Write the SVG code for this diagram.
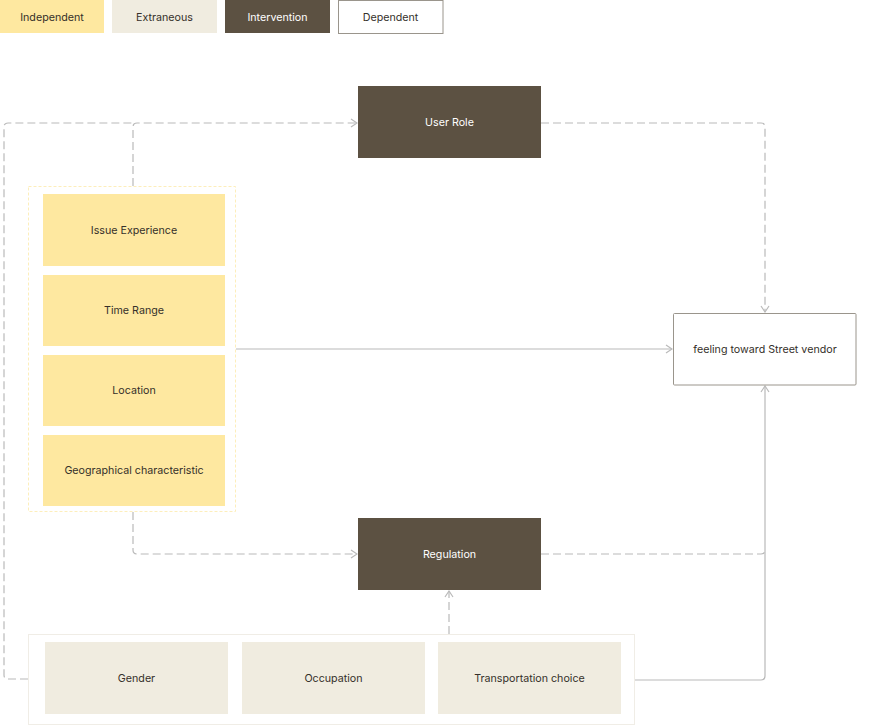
<svg xmlns="http://www.w3.org/2000/svg" width="889" height="726" viewBox="0 0 889 726">
<style>
text{font-family:Inter,"Noto Sans","Liberation Sans",sans-serif;font-size:10.7px;text-anchor:middle;dominant-baseline:central;fill:#35302a}
.ind{fill:#fee8a0}
.ext{fill:#f0ece0}
.int{fill:#5c5142}
.dep{fill:#fff;stroke:#9a958c;stroke-width:1}
.w{fill:#fff}
.c{fill:none;stroke:#bababa;stroke-width:1.2}
.d{stroke-dasharray:8 4}
</style>
<defs>
<marker id="a" viewBox="0 0 10 10" refX="9" refY="5" markerWidth="10" markerHeight="10" markerUnits="userSpaceOnUse" orient="auto">
<path d="M3,1 L9,5 L3,9" fill="none" stroke="#bababa" stroke-width="1.2"/>
</marker>
</defs>
<g id="legend">
<g id="legend-independent"><rect class="ind" x="0" y="0" width="104" height="33"/><text x="52" y="17">Independent</text></g>
<g id="legend-extraneous"><rect class="ext" x="112" y="0" width="105" height="33"/><text x="164.5" y="17">Extraneous</text></g>
<g id="legend-intervention"><rect class="int" x="225" y="0" width="105" height="33"/><text class="w" x="277.5" y="17">Intervention</text></g>
<g id="legend-dependent"><rect class="dep" x="338.5" y="0.5" width="104.5" height="33"/><text x="390.5" y="17">Dependent</text></g>
</g>
<g id="connectors">
<path class="c d" d="M133,186 V127 Q133,123 137,123 H357" marker-end="url(#a)"/>
<path class="c d" d="M28,679 H8 Q4,679 4,675 V127 Q4,123 8,123 H133"/>
<path class="c d" d="M541,123 H761 Q765,123 765,127 V312" marker-end="url(#a)"/>
<path class="c" d="M236,349 H672" marker-end="url(#a)"/>
<path class="c d" d="M133,512 V550 Q133,554 137,554 H357" marker-end="url(#a)"/>
<path class="c d" d="M541,554 H761 Q765,554 765,550"/>
<path class="c" d="M635,680 H761 Q765,680 765,676 V386" marker-end="url(#a)"/>
<path class="c d" d="M449,634 V591" marker-end="url(#a)"/>
</g>
<g id="independent-group">
<rect x="28.5" y="186.5" width="207" height="325" fill="none" stroke="#fdeebb" stroke-width="1" stroke-dasharray="3 2"/>
<g id="issue-experience"><rect class="ind" x="43" y="194" width="182" height="72"/><text x="134" y="230">Issue Experience</text></g>
<g id="time-range"><rect class="ind" x="43" y="275" width="182" height="71"/><text x="134" y="310.5">Time Range</text></g>
<g id="location"><rect class="ind" x="43" y="355" width="182" height="71"/><text x="134" y="390.5">Location</text></g>
<g id="geographical"><rect class="ind" x="43" y="435" width="182" height="71"/><text x="134" y="470.5">Geographical characteristic</text></g>
</g>
<g id="user-role"><rect class="int" x="358" y="86" width="183" height="72"/><text class="w" x="449.5" y="122">User Role</text></g>
<g id="regulation"><rect class="int" x="358" y="518" width="183" height="72"/><text class="w" x="449.5" y="554">Regulation</text></g>
<g id="feeling"><rect class="dep" x="673.5" y="313.5" width="182.5" height="71.5" rx="1"/><text x="765" y="349">feeling toward Street vendor</text></g>
<g id="extraneous-group">
<rect x="28.5" y="634.5" width="606" height="90" fill="#fff" stroke="#f0ede6" stroke-width="1"/>
<g id="gender"><rect class="ext" x="45" y="642" width="183" height="72"/><text x="136.5" y="678">Gender</text></g>
<g id="occupation"><rect class="ext" x="242" y="642" width="183" height="72"/><text x="333.5" y="678">Occupation</text></g>
<g id="transportation"><rect class="ext" x="438" y="642" width="183" height="72"/><text x="529.5" y="678">Transportation choice</text></g>
</g>
</svg>
